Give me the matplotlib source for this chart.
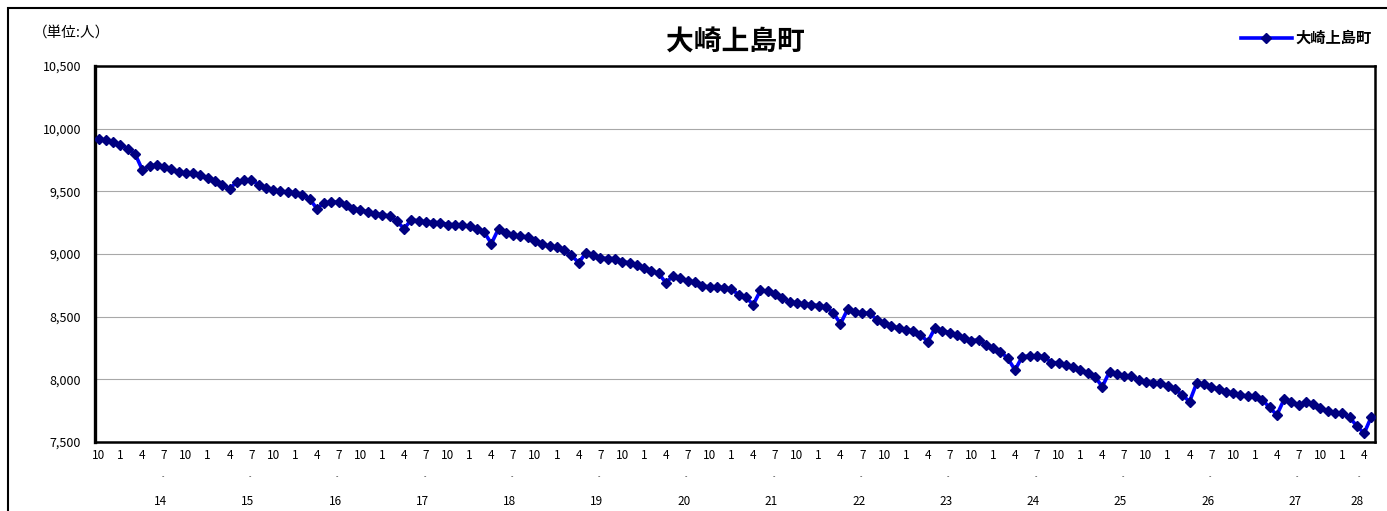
import matplotlib
matplotlib.use("Agg")
import matplotlib.pyplot as plt
import matplotlib.transforms as mtransforms
from matplotlib.patches import Rectangle
from matplotlib.lines import Line2D
import numpy as np

plt.rcParams['font.family'] = ['Noto Sans CJK JP', 'DejaVu Sans']

# monthly population, Oct H13 .. May H28
title = "大崎上島町"
unit_label = "（単位:人）"
start_month = 10
population = [
    9920, 9907, 9894, 9872, 9840, 9800, 9673, 9700, 9713, 9694, 9676, 9654,
    9646, 9646, 9628, 9606, 9582, 9553, 9521, 9574, 9588, 9593, 9553, 9529,
    9508, 9500, 9495, 9489, 9473, 9441, 9362, 9407, 9415, 9415, 9388, 9362,
    9351, 9335, 9322, 9314, 9303, 9261, 9202, 9274, 9264, 9256, 9251, 9251,
    9235, 9235, 9229, 9221, 9203, 9176, 9083, 9203, 9171, 9150, 9142, 9137,
    9102, 9078, 9062, 9057, 9030, 8991, 8930, 9009, 8991, 8969, 8964, 8964,
    8940, 8930, 8911, 8892, 8866, 8845, 8770, 8826, 8805, 8784, 8778, 8744,
    8739, 8739, 8730, 8720, 8675, 8656, 8595, 8709, 8701, 8680, 8648, 8621,
    8608, 8603, 8595, 8589, 8576, 8533, 8443, 8560, 8536, 8528, 8528, 8475,
    8453, 8427, 8408, 8395, 8387, 8355, 8301, 8408, 8389, 8373, 8355, 8328,
    8309, 8315, 8275, 8253, 8221, 8168, 8075, 8181, 8187, 8187, 8181, 8133,
    8133, 8114, 8096, 8074, 8053, 8021, 7941, 8061, 8040, 8027, 8027, 7995,
    7981, 7973, 7968, 7947, 7920, 7875, 7822, 7973, 7960, 7941, 7920, 7902,
    7888, 7875, 7867, 7867, 7835, 7777, 7715, 7840, 7822, 7795, 7816, 7803,
    7769, 7750, 7734, 7729, 7697, 7628, 7569, 7702,
]
years = list(range(14, 29))
y_ticks = [7500, 8000, 8500, 9000, 9500, 10000, 10500]


def main():
    n = len(population)
    x = np.arange(n)
    months = [(start_month - 1 + i) % 12 + 1 for i in range(n)]

    fig = plt.figure(figsize=(13.87, 5.11), dpi=100)
    ax = fig.add_axes([95 / 1387, 1 - 442 / 511, 1280 / 1387, 376 / 511])

    ax.plot(x, population, color='#0000ff', lw=2.6, marker='D', ms=5.5,
            mfc='#000080', mec='#000080', zorder=3)

    ax.set_xlim(-0.5, n - 0.5)
    ax.set_ylim(7500, 10500)
    ax.set_yticks(y_ticks)
    ax.set_yticklabels([f"{v:,}" for v in y_ticks], fontsize=9)
    ax.tick_params(axis='y', length=0, pad=10)
    ax.grid(axis='y', color='#a8a8a8', lw=0.8)
    ax.set_xticks([])
    for s in ax.spines.values():
        s.set_linewidth(1.8)
        s.set_color('black')
    ax.spines['left'].set_linewidth(2.4)

    # month labels, dots and year labels under the axis
    tr = mtransforms.blended_transform_factory(ax.transData, fig.transFigure)
    for i in range(0, n, 3):
        ax.text(i, 1 - 455 / 511, str(months[i]), transform=tr,
                ha='center', va='center', fontsize=8.5)
    first_jan = months.index(1)
    for k, yr in enumerate(years):
        i0 = first_jan + 12 * k
        i1 = min(i0 + 11, n - 1)
        xc = (i0 + i1) / 2
        ax.text(xc + 0.3, 1 - 477 / 511, "-", transform=tr,
                ha='center', va='center', fontsize=5)
        ax.text(xc, 1 - 501 / 511, str(yr), transform=tr,
                ha='center', va='center', fontsize=8.5)

    fig.text(735 / 1387, 1 - 42 / 511, title, ha='center', va='center',
             fontsize=20, fontweight='bold')
    fig.text(33 / 1387, 1 - 33 / 511, unit_label, ha='left', va='center',
             fontsize=10.5)

    # legend
    ly = 1 - 38 / 511
    fig.add_artist(Line2D([1241 / 1387, 1292 / 1387], [ly, ly], color='#0000ff',
                          lw=2.6, transform=fig.transFigure))
    fig.add_artist(Line2D([1266 / 1387], [ly], marker='D', ms=5.5, mfc='#000080',
                          mec='#000080', transform=fig.transFigure))
    fig.text(1295 / 1387, ly, title, ha='left', va='center', fontsize=11,
             fontweight='bold')

    # outer chart frame
    fig.add_artist(Rectangle((8 / 1387, -0.2), 1.2, 1.2 - 8 / 511,
                             transform=fig.transFigure, fill=False,
                             ec='black', lw=1.5))

    fig.savefig("out.png", dpi=100)


if __name__ == "__main__":
    main()
